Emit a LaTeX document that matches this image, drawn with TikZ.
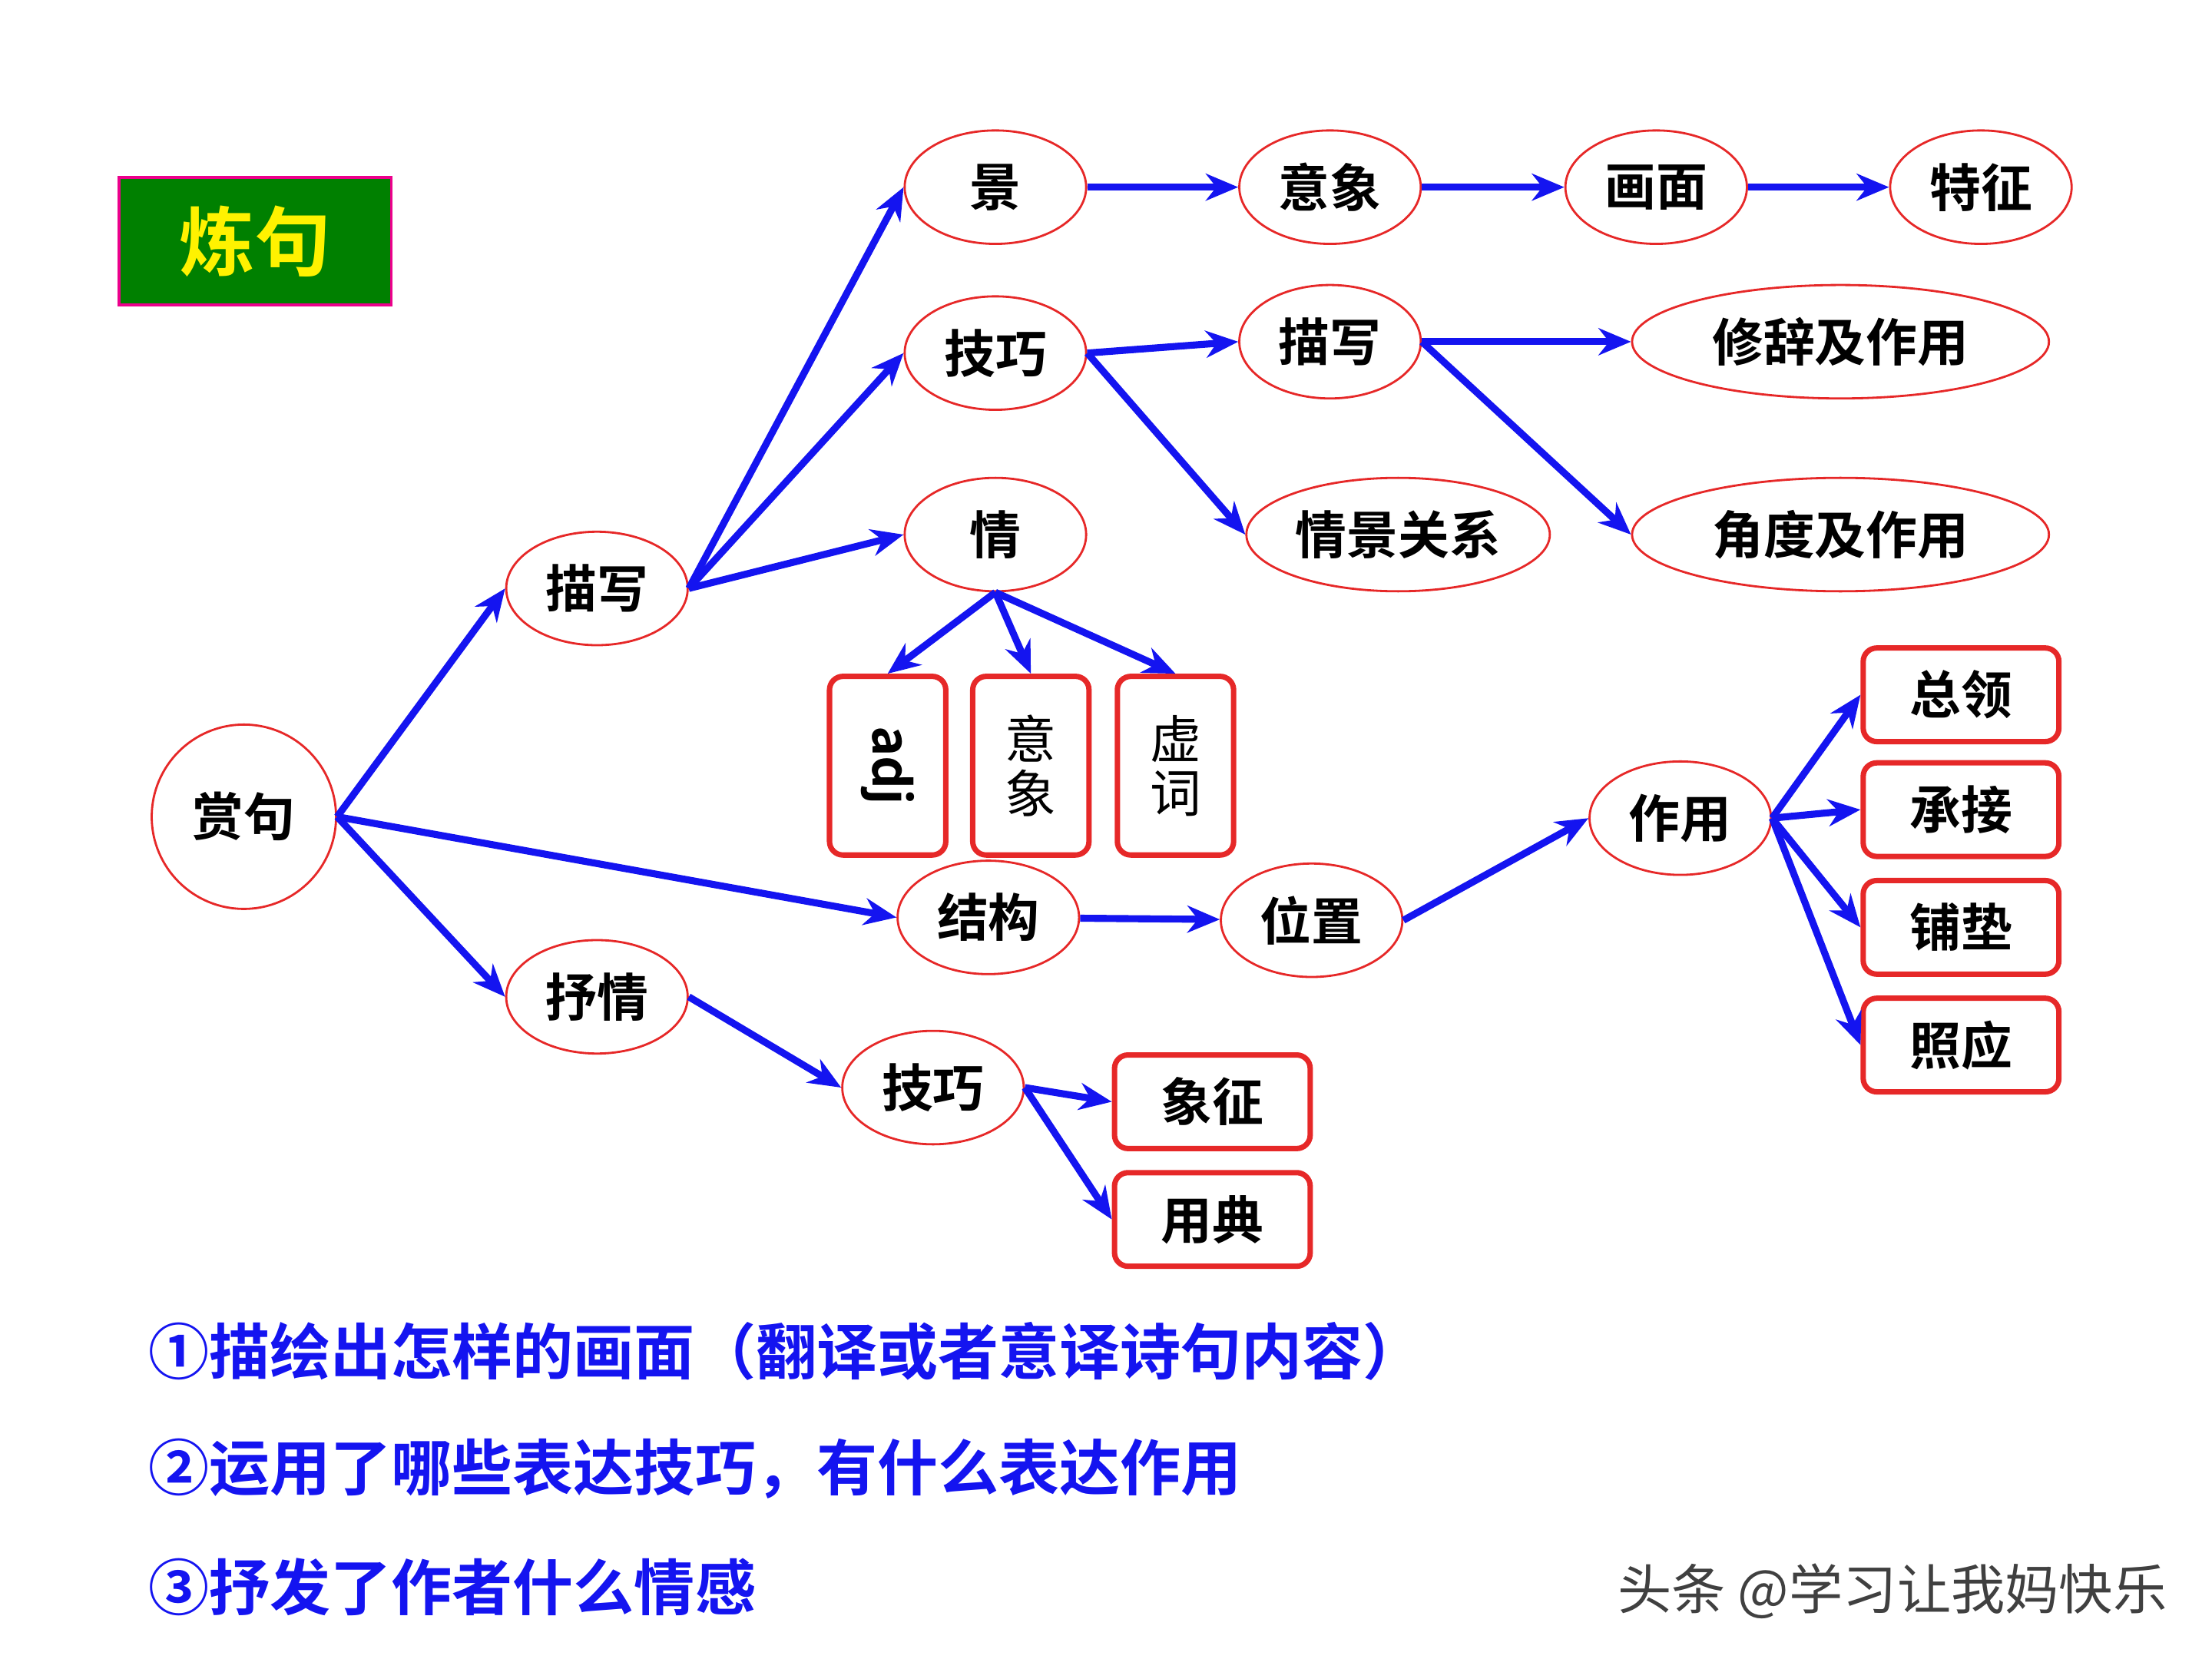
\documentclass[tikz,border=0pt]{standalone}
\usepackage{fontspec}
\setmainfont{Noto Sans CJK SC}[BoldFont={* Bold}]
\usetikzlibrary{shapes.geometric,arrows.meta}
\definecolor{arrblue}{RGB}{20,20,240}
\definecolor{ellred}{RGB}{230,40,40}
\definecolor{ttlgreen}{RGB}{0,128,0}
\tikzset{
  oval/.style={ellipse,draw=ellred,line width=0.8pt,inner sep=0pt,minimum width=128\px,minimum height=80\px,font=\fontsize{19}{22}\selectfont\bfseries},
  wideoval/.style={oval,minimum width=294\px},
  redbox/.style={draw=ellred,line width=2pt,rounded corners=5pt,inner sep=0pt,minimum width=138\px,minimum height=66\px,font=\fontsize{19}{22}\selectfont\bfseries},
  tallbox/.style={redbox,minimum width=82\px,minimum height=126\px},
  arr/.style={-{Stealth[length=12pt,width=10pt]},arrblue,line width=2.6pt},
  note/.style={anchor=west,text=arrblue,font=\fontsize{22.5}{26}\selectfont\bfseries}
}
\newlength{\px}\setlength{\px}{0.01846cm}
\begin{document}
\begin{tikzpicture}[x=0.01846cm,y=-0.01846cm]
\useasboundingbox (0,0) rectangle (1560,1170);
\node[fill=ttlgreen,draw=magenta,line width=1pt,minimum width=192\px,minimum height=90\px,text=yellow,font=\fontsize{28}{32}\selectfont\bfseries] (title) at (180,170) {炼句};
\node[circle,draw=ellred,line width=0.8pt,minimum size=130\px,font=\fontsize{19}{22}\selectfont\bfseries] (shangju) at (172,576) {赏句};
\node[oval] (miaoxie) at (421,415) {描写};
\node[oval] (shuqing) at (421,703) {抒情};
\node[oval] (jiegou) at (697,647) {结构};
\node[oval] (jing) at (702,132) {景};
\node[oval] (jiqiao) at (702,249) {技巧};
\node[oval] (qing) at (702,377) {情};
\node[oval] (yixiang) at (938,132) {意象};
\node[oval] (huamian) at (1168,132) {画面};
\node[oval] (tezheng) at (1397,132) {特征};
\node[oval] (miaoxieb) at (938,241) {描写};
\node[wideoval] (xiuci) at (1298,241) {修辞及作用};
\node[oval,minimum width=214\px] (qingjing) at (986,377) {情景关系};
\node[wideoval] (jiaodu) at (1298,377) {角度及作用};
\node[tallbox] (adj) at (626,540) {\rotatebox{-90}{adj}};
\node[tallbox,font=\fontsize{19}{22}\selectfont] (yixiangb) at (727,540) {\shortstack{意\\象}};
\node[tallbox,font=\fontsize{19}{22}\selectfont] (xuci) at (829,540) {\shortstack{虚\\词}};
\node[oval] (weizhi) at (925,649) {位置};
\node[oval] (zuoyong) at (1185,577) {作用};
\node[redbox] (zongling) at (1383,490) {总领};
\node[redbox] (chengjie) at (1383,571) {承接};
\node[redbox] (pudian) at (1383,654) {铺垫};
\node[redbox] (zhaoying) at (1383,737) {照应};
\node[oval] (jiqiaob) at (658,767) {技巧};
\node[redbox] (xiangzheng) at (855,777) {象征};
\node[redbox] (yongdian) at (855,860) {用典};

\draw[arr] (shangju.east) -- (miaoxie.west);
\draw[arr] (shangju.east) -- (jiegou.west);
\draw[arr] (shangju.east) -- (shuqing.west);
\draw[arr] (miaoxie.east) -- (jing.west);
\draw[arr] (miaoxie.east) -- (jiqiao.west);
\draw[arr] (miaoxie.east) -- (qing.west);
\draw[arr] (jing) -- (yixiang);
\draw[arr] (yixiang) -- (huamian);
\draw[arr] (huamian) -- (tezheng);
\draw[arr] (jiqiao.east) -- (miaoxieb.west);
\draw[arr] (jiqiao.east) -- (qingjing.west);
\draw[arr] (miaoxieb.east) -- (xiuci.west);
\draw[arr] (miaoxieb.east) -- (jiaodu.west);
\draw[arr] (qing.south) -- (adj.north);
\draw[arr] (qing.south) -- (yixiangb.north);
\draw[arr] (qing.south) -- (xuci.north);
\draw[arr] (jiegou) -- (weizhi);
\draw[arr] (weizhi.east) -- (zuoyong.west);
\draw[arr] (zuoyong.east) -- (zongling.west);
\draw[arr] (zuoyong.east) -- (chengjie.west);
\draw[arr] (zuoyong.east) -- (pudian.west);
\draw[arr] (zuoyong.east) -- (zhaoying.west);
\draw[arr] (shuqing.east) -- (jiqiaob.west);
\draw[arr] (jiqiaob.east) -- (xiangzheng.west);
\draw[arr] (jiqiaob.east) -- (yongdian.west);

\node[note] (line1) at (98,953) {①描绘出怎样的画面（翻译或者意译诗句内容）};
\node[note] (line2) at (98,1036) {②运用了哪些表达技巧，有什么表达作用};
\node[note] (line3) at (98,1119) {③抒发了作者什么情感};
\node[anchor=east,text=black!75,font=\fontsize{20}{24}\selectfont] (mark) at (1535,1122) {头条 @学习让我妈快乐};
\end{tikzpicture}
\end{document}
